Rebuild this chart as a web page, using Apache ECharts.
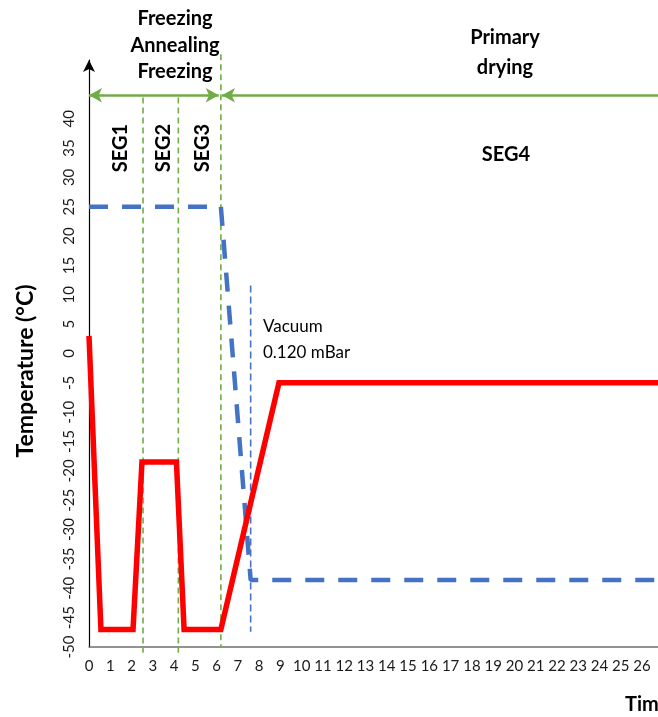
<!DOCTYPE html>
<html>
<head>
<meta charset="utf-8">
<script src="https://cdn.jsdelivr.net/npm/echarts@6/dist/echarts.min.js"></script>
<style>
  html, body { margin: 0; padding: 0; background: #ffffff; }
  #chart { width: 658px; height: 717px; }
</style>
</head>
<body>
<div id="chart"></div>
<script>
// Shelf temperature program (time in h, temperature in °C)
const shelfTime = [0, 0.56, 2.07, 2.49, 4.11, 4.47, 6.2, 8.93, 26.75];
const shelfTemp = [3, -47, -47, -18.5, -18.5, -47, -47, -5, -5];

// Dashed blue trace
const blueTime = [0, 6.2, 7.6, 26.75];
const blueTemp = [25, 25, -38.6, -38.6];

// Segment boundaries (green dashed verticals)
const segTime = [2.54, 4.2, 6.2];
const segTop = [43.6, 43.6, 51];
const segBottom = [-51, -51, -50];

// Vacuum start marker
const vacuumTime = [7.6, 7.6];
const vacuumTemp = [11.6, -47.4];

// Phase arrows
const phaseLevel = 44;
const freezeSpan = [0, 6.1];
const dryingSpan = [6.25, 26.75];

// Axis tick labels
const xTickLabels = [0, 1, 2, 3, 4, 5, 6, 7, 8, 9, 10, 11, 12, 13, 14, 15, 16, 17, 18, 19, 20, 21, 22, 23, 24, 25, 26];
const yTickLabels = [-50, -45, -40, -35, -30, -25, -20, -15, -10, -5, 0, 5, 10, 15, 20, 25, 30, 35, 40];

const FONT = 'Lato';
const GREEN = '#70ad47';
const BLUE = '#4472c4';

const zip = (xs, ys) => xs.map((x, i) => [x, ys[i]]);

const chart = echarts.init(document.getElementById('chart'), null, { renderer: 'canvas' });

const segSeries = segTime.map((t, i) => ({
  type: 'line',
  data: [[t, segTop[i]], [t, segBottom[i]]],
  symbol: 'none',
  clip: false,
  silent: true,
  z: 1,
  lineStyle: { color: GREEN, width: 1.6, type: [6, 4] }
}));

const boldText = (text, x, y, size, rot) => ({
  type: 'text',
  x: x, y: y,
  rotation: rot || 0,
  silent: true,
  style: {
    text: text,
    font: 'bold ' + size + 'px ' + FONT,
    fill: '#000000',
    align: 'center',
    verticalAlign: 'middle'
  }
});

chart.setOption({
  animation: false,
  backgroundColor: '#ffffff',
  grid: { left: 89, top: 60, right: 0, bottom: 70, containLabel: false },
  xAxis: {
    type: 'value',
    min: 0,
    max: 26.75,
    interval: 1,
    splitLine: { show: false },
    axisTick: { show: false },
    axisLine: { show: true, onZero: false, lineStyle: { color: '#6f6f6f', width: 1.5 } },
    axisLabel: {
      margin: 12,
      fontFamily: FONT,
      fontSize: 15,
      color: '#1a1a1a',
      showMaxLabel: false,
      formatter: v => (xTickLabels.indexOf(v) >= 0 ? String(v) : '')
    }
  },
  yAxis: {
    type: 'value',
    min: -50,
    max: 50,
    interval: 5,
    splitLine: { show: false },
    axisTick: { show: false },
    axisLine: {
      show: true,
      onZero: false,
      symbol: ['none', 'arrow'],
      symbolSize: [9, 12],
      lineStyle: { color: '#000000', width: 1.2 }
    },
    axisLabel: {
      rotate: 90,
      margin: 12,
      fontFamily: FONT,
      fontSize: 15,
      color: '#1a1a1a',
      formatter: v => (yTickLabels.indexOf(v) >= 0 ? String(v) : '')
    }
  },
  series: [
    ...segSeries,
    {
      type: 'line',
      data: zip(vacuumTime, vacuumTemp),
      symbol: 'none',
      silent: true,
      z: 2,
      lineStyle: { color: BLUE, width: 1.6, type: [7, 4] }
    },
    {
      type: 'line',
      data: zip(blueTime, blueTemp),
      symbol: 'none',
      silent: true,
      z: 3,
      lineStyle: { color: BLUE, width: 4.5, type: [19, 14] }
    },
    {
      type: 'line',
      data: zip(shelfTime, shelfTemp),
      symbol: 'none',
      silent: true,
      z: 4,
      lineStyle: { color: '#ff0000', width: 5.5, join: 'miter', cap: 'butt' }
    },
    {
      // phase arrows
      type: 'line',
      data: [],
      silent: true,
      markLine: {
        silent: true,
        animation: false,
        label: { show: false },
        lineStyle: { color: GREEN, width: 2.6, type: 'solid' },
        symbolSize: [11, 13],
        data: [
          [
            { coord: [freezeSpan[0], phaseLevel], symbol: 'arrow' },
            { coord: [freezeSpan[1], phaseLevel], symbol: 'arrow' }
          ],
          [
            { coord: [dryingSpan[0], phaseLevel], symbol: 'arrow' },
            { coord: [dryingSpan[1], phaseLevel], symbol: 'none' }
          ]
        ]
      }
    }
  ],
  graphic: [
    boldText('Freezing', 175, 19, 20),
    boldText('Annealing', 175, 46, 20),
    boldText('Freezing', 175, 72, 20),
    boldText('Primary', 505, 38, 20),
    boldText('drying', 505, 68, 20),
    boldText('SEG4', 506, 155, 20),
    boldText('SEG1', 121, 148, 20, Math.PI / 2),
    boldText('SEG2', 164, 148, 20, Math.PI / 2),
    boldText('SEG3', 203, 148, 20, Math.PI / 2),
    boldText('Temperature (°C)', 26, 371, 23, Math.PI / 2),
    {
      type: 'text', x: 625, y: 705, silent: true,
      style: { text: 'Time (h)', font: 'bold 20px ' + FONT, fill: '#000', align: 'left', verticalAlign: 'middle' }
    },
    {
      type: 'text', x: 263, y: 327, silent: true,
      style: { text: 'Vacuum', font: '17px ' + FONT, fill: '#000', align: 'left', verticalAlign: 'middle' }
    },
    {
      type: 'text', x: 263, y: 353, silent: true,
      style: { text: '0.120 mBar', font: '17px ' + FONT, fill: '#000', align: 'left', verticalAlign: 'middle' }
    }
  ]
});
</script>
</body>
</html>
